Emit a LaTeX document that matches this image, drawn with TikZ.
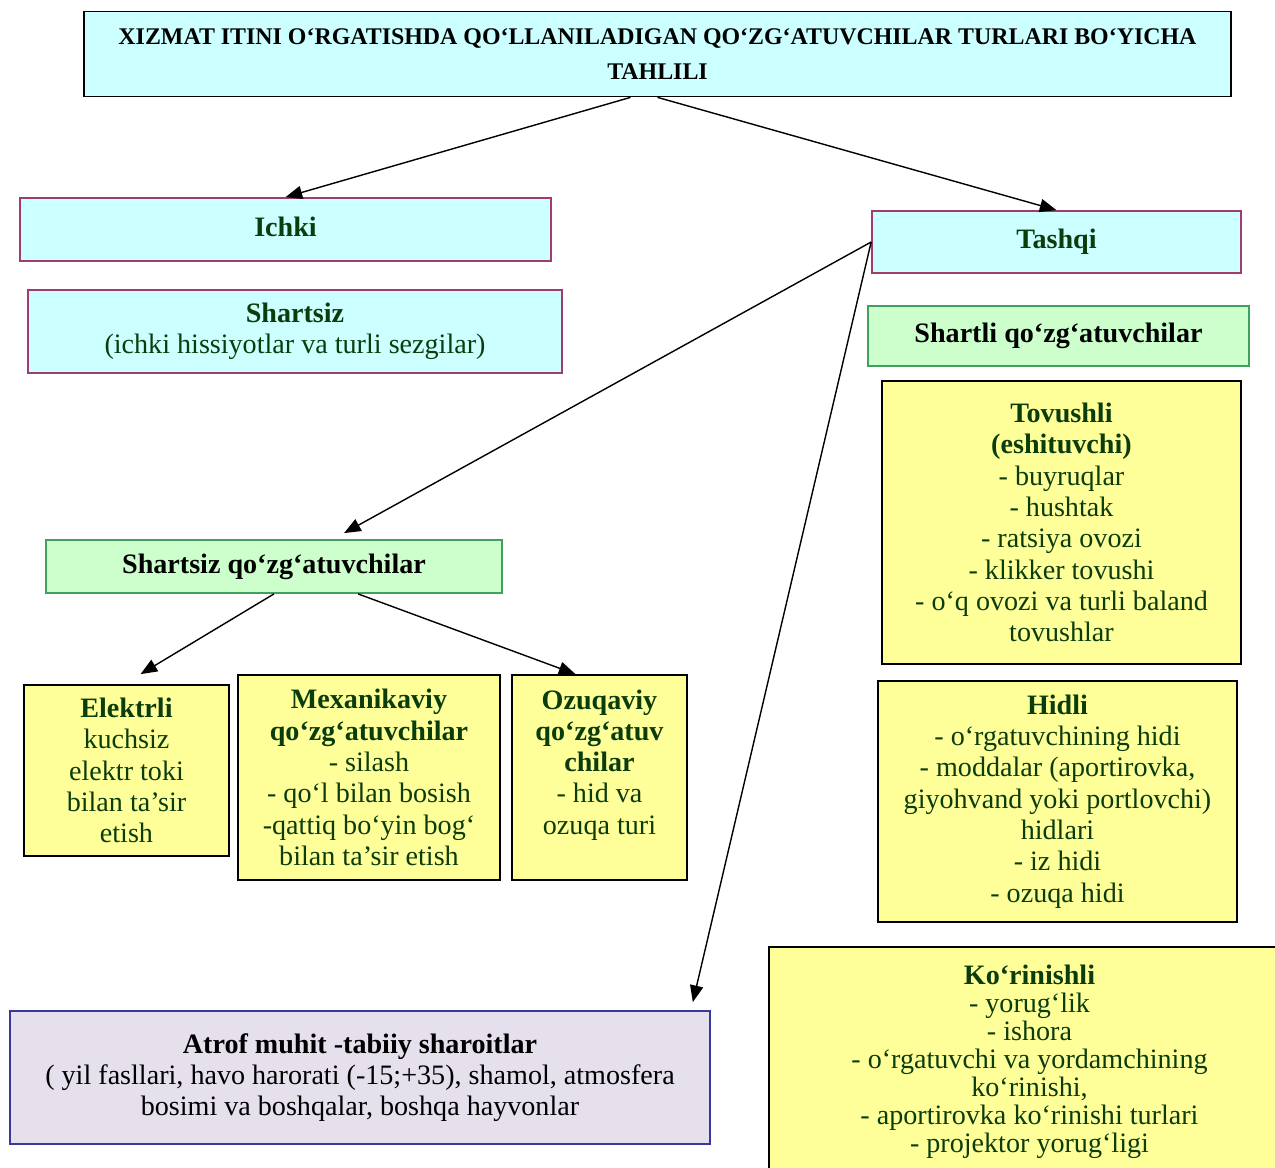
\documentclass[tikz,border=0pt]{standalone}
\usepackage{fontspec}
\setmainfont{Liberation Serif}
\usepackage{tikz}
\usetikzlibrary{arrows.meta,calc}

\definecolor{boxcyan}{HTML}{CCFFFF}
\definecolor{pinkline}{HTML}{A23C6C}
\definecolor{boxgreen}{HTML}{CCFFCC}
\definecolor{greenline}{HTML}{3FA060}
\definecolor{boxyellow}{HTML}{FFFF99}
\definecolor{boxlilac}{HTML}{E5E0EC}
\definecolor{blueline}{HTML}{3838A0}
\definecolor{dgreen}{HTML}{0B3C0B}

\begin{document}
\begin{tikzpicture}[x=0.02cm, y=-0.02cm, >={Triangle[length=9.5pt,width=7.5pt]},
    every node/.style={inner sep=0pt, align=center, line width=1pt},
    body/.style={font=\fontsize{16}{17.8}\selectfont},
    cyanbox/.style={body, draw=pinkline, fill=boxcyan, text=dgreen},
    greenbox/.style={body, draw=greenline, fill=boxgreen, text=black},
    yellowbox/.style={body, draw=black, fill=boxyellow, text=dgreen},
    link/.style={->, line width=0.8pt}]

    %% Background
    \useasboundingbox (0,0) rectangle (1275,1167);

    %% Title
    \node[draw=black, fill=boxcyan, minimum width=22.94cm, minimum height=1.7cm,
          font=\fontsize{13.6}{19.8}\selectfont\bfseries] (title) at (657.5,54)
        {XIZMAT ITINI O‘RGATISHDA QO‘LLANILADIGAN QO‘ZG‘ATUVCHILAR TURLARI BO‘YICHA\\ TAHLILI};

    %% Ichki
    \node[cyanbox, minimum width=10.62cm, minimum height=1.26cm] (ichki) at (285.5,229.5)
        {\raisebox{3pt}{\textbf{Ichki}}};
    \node[cyanbox, minimum width=10.68cm, minimum height=1.66cm] (ichkish) at (295,331.5)
        {\textbf{Shartsiz}\\ (ichki hissiyotlar va turli sezgilar)};

    %% Tashqi
    \node[cyanbox, minimum width=7.38cm, minimum height=1.24cm] (tashqi) at (1056.5,242)
        {\textbf{Tashqi}};
    \node[greenbox, minimum width=7.62cm, minimum height=1.2cm] (shartli) at (1058.5,336)
        {\textbf{Shartli qo‘zg‘atuvchilar}};

    \node[yellowbox, minimum width=7.18cm, minimum height=5.66cm] (tovush) at (1061.5,522.5)
        {\textbf{Tovushli}\\ \textbf{(eshituvchi)}\\ - buyruqlar\\ - hushtak\\ - ratsiya ovozi\\
         - klikker tovushi\\ - o‘q ovozi va turli baland\\ tovushlar};
    \node[yellowbox, minimum width=7.18cm, minimum height=4.82cm] (hid) at (1057.5,801.5)
        {\textbf{Hidli}\\ - o‘rgatuvchining hidi\\ - moddalar (aportirovka,\\
         giyohvand yoki portlovchi)\\ hidlari\\ - iz hidi\\ - ozuqa hidi};
    \node[yellowbox, minimum width=10.42cm, minimum height=4.6cm,
          font=\fontsize{16}{15.9}\selectfont] (korish) at (1029.5,1062)
        {\textbf{Ko‘rinishli}\\ - yorug‘lik\\ - ishora\\ - o‘rgatuvchi va yordamchining\\
         ko‘rinishi,\\ - aportirovka ko‘rinishi turlari\\ - projektor yorug‘ligi};

    %% Shartsiz qo'zg'atuvchilar
    \node[greenbox, minimum width=9.12cm, minimum height=1.06cm] (shartsizq) at (274,566.5)
        {\textbf{Shartsiz qo‘zg‘atuvchilar}};

    \node[yellowbox, minimum width=4.1cm, minimum height=3.42cm] (elektr) at (126.5,770.5)
        {\textbf{Elektrli}\\ kuchsiz\\ elektr toki\\ bilan ta’sir\\ etish};
    \node[yellowbox, minimum width=5.24cm, minimum height=4.1cm] (mexanik) at (369,777.5)
        {\textbf{Mexanikaviy}\\ \textbf{qo‘zg‘atuvchilar}\\ - silash\\ - qo‘l bilan bosish\\
         -qattiq bo‘yin bog‘\\ bilan ta’sir etish};
    \node[yellowbox, minimum width=3.5cm, minimum height=4.1cm] (ozuqa) at (599.5,777.5)
        {\textbf{Ozuqaviy}\\ \textbf{qo‘zg‘atuv}\\ \textbf{chilar}\\ - hid va\\ ozuqa turi\\ ~};

    %% Atrof muhit
    \node[body, draw=blueline, fill=boxlilac, minimum width=14cm, minimum height=2.66cm] (atrof) at (360,1077.5)
        {\textbf{Atrof muhit -tabiiy sharoitlar}\\
         ( yil fasllari, havo harorati (-15;+35), shamol, atmosfera\\
         bosimi va boshqalar, boshqa hayvonlar};

    %% Arrows
    \draw[link] ($(title.south)+(-27,0)$) -- (ichki.north);
    \draw[link] (title.south) -- (tashqi.north);
    \draw[link] (tashqi.west) -- ($(shartsizq.north)+(70,-6)$);
    \draw[link] (tashqi.west) -- ($(atrof.north east)+(-18,-8)$);
    \draw[link] (shartsizq.south) -- ($(elektr.north)+(14,-10)$);
    \draw[link] ($(shartsizq.south)+(84,0)$) -- ($(ozuqa.north)+(-24,0)$);

\end{tikzpicture}
\end{document}
